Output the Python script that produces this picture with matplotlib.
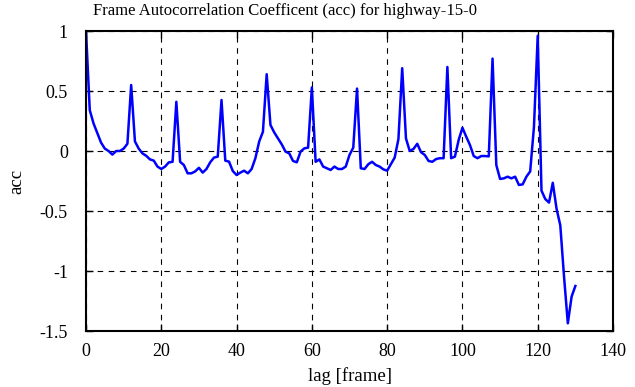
import matplotlib
matplotlib.use("Agg")
import matplotlib.pyplot as plt
import numpy as np

lags = list(range(0, 131))
acc = [
    1.00, 0.34, 0.23, 0.15, 0.07, 0.02, 0.00, -0.03, 0.00, 0.00,   # 0-9
    0.02, 0.06, 0.55, 0.08, 0.02, -0.02, -0.04, -0.07, -0.08, -0.13,  # 10-19
    -0.15, -0.13, -0.095, -0.09, 0.41, -0.09, -0.117, -0.186, -0.186, -0.17,  # 20-29
    -0.14, -0.18, -0.15, -0.094, -0.055, -0.047, 0.425, -0.08, -0.089, -0.167,  # 30-39
    -0.20, -0.18, -0.164, -0.186, -0.15, -0.06, 0.078, 0.16, 0.64, 0.217,  # 40-49
    0.155, 0.105, 0.055, -0.005, -0.02, -0.083, -0.094, -0.005, 0.022, 0.028,  # 50-59
    0.53, -0.09, -0.07, -0.13, -0.144, -0.158, -0.13, -0.15, -0.15, -0.13,  # 60-69
    -0.033, 0.028, 0.52, -0.144, -0.15, -0.11, -0.09, -0.117, -0.13, -0.153,  # 70-79
    -0.164, -0.11, -0.055, 0.10, 0.69, 0.105, 0.00, 0.017, 0.06, -0.01,  # 80-89
    -0.033, -0.083, -0.09, -0.067, -0.06, -0.06, 0.70, -0.06, -0.047, 0.092,  # 90-99
    0.194, 0.12, 0.05, -0.042, -0.06, -0.042, -0.042, -0.045, 0.77, -0.117,  # 100-109
    -0.233, -0.228, -0.214, -0.228, -0.214, -0.283, -0.278, -0.214, -0.17, 0.20,  # 110-119
    0.96, -0.33, -0.40, -0.43, -0.265, -0.48, -0.62, -1.05, -1.436, -1.214,  # 120-129
    -1.125,  # 130
]

xticks = [0, 20, 40, 60, 80, 100, 120, 140]
yticks = [1, 0.5, 0, -0.5, -1, -1.5]
yticklabels = ["1", "0.5", "0", "-0.5", "-1", "-1.5"]
title = "Frame Autocorrelation Coefficent (acc) for highway-15-0"

plt.rcParams['font.family'] = ['Liberation Serif', 'DejaVu Serif']
fig = plt.figure(figsize=(6.35, 3.87), dpi=100)
ax = fig.add_axes([86/635, 1-331/387, (613-86)/635, (331-31)/387])

ax.plot(lags, acc, color=(0, 0, 1), linewidth=1.8)
ax.set_xlim(0, 140)
ax.set_ylim(-1.5, 1)
ax.set_xticks(xticks)
ax.set_xticklabels([str(t) for t in xticks])
ax.set_yticks(yticks)
ax.set_yticklabels(yticklabels)
ax.grid(True, color='black', linestyle=(0, (5, 5)), linewidth=0.8)
ax.tick_params(direction='in', length=5, width=1, top=True, right=True,
               labelsize=13)
ax.tick_params(axis='x', pad=9)
ax.tick_params(axis='y', pad=13)
for s in ax.spines.values():
    s.set_linewidth(1.5)
fig.text(285/635, 1-11/387, title, fontsize=12, ha='center', va='center')
ax.set_xlabel("lag [frame]", fontsize=13.5, labelpad=5)
ax.set_ylabel("acc", fontsize=13.5, labelpad=10)

fig.savefig("out.png", dpi=100)
